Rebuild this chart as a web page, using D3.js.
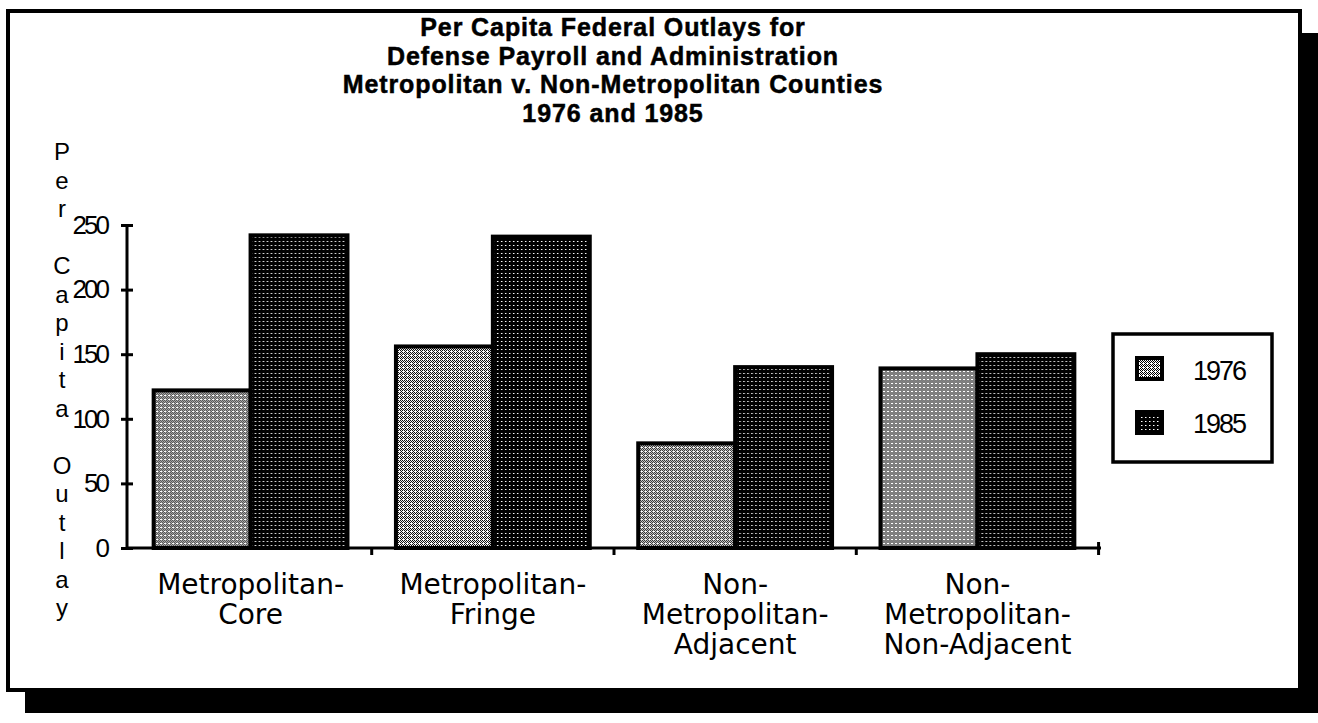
<!DOCTYPE html>
<html><head><meta charset="utf-8">
<script src="https://cdn.jsdelivr.net/npm/d3@7"></script>
<style>
html,body{margin:0;padding:0;background:#fff;}
svg{display:block;}
</style></head>
<body><svg id="c" width="1318" height="723" font-family="Liberation Sans, Arial, sans-serif"></svg>
<script>
const categories = ["Metropolitan-Core","Metropolitan-Fringe","Non-Metropolitan-Adjacent","Non-Metropolitan-Non-Adjacent"];
const categoryLines = [["Metropolitan-","Core"],["Metropolitan-","Fringe"],["Non-","Metropolitan-","Adjacent"],["Non-","Metropolitan-","Non-Adjacent"]];
const seriesNames = ["1976","1985"];
const values1976 = [122, 156, 81, 139];
const values1985 = [242, 241, 140, 150];
const yTicks = [0,50,100,150,200,250];
const titleLines = ["Per Capita Federal Outlays for","Defense Payroll and Administration","Metropolitan v. Non-Metropolitan Counties","1976 and 1985"];
const yTitle = "Per Capita Outlay";

const svg = d3.select("#c");
const defs = svg.append("defs");
// 1976: fine dotted mesh (medium-light gray)
const p1 = defs.append("pattern").attr("id","pat1976").attr("patternUnits","userSpaceOnUse").attr("width",4).attr("height",4);
p1.append("rect").attr("width",4).attr("height",4).attr("fill","#fff");
[[0,0],[2,0],[1,1],[3,1],[0,2],[2,2],[1,3]].forEach(([a,b])=>{
  p1.append("rect").attr("x",a).attr("y",b).attr("width",1).attr("height",1).attr("fill","#000");
});
// 1985: black with small white dots
const p2 = defs.append("pattern").attr("id","pat1985").attr("patternUnits","userSpaceOnUse").attr("width",4).attr("height",4);
p2.append("rect").attr("width",4).attr("height",4).attr("fill","#000");
p2.append("rect").attr("x",1).attr("y",1).attr("width",1.5).attr("height",1).attr("fill","#fff");
const fills = ["url(#pat1976)","url(#pat1985)"];

// page frame with shadow
svg.append("rect").attr("x",25).attr("y",690).attr("width",1293).attr("height",23).attr("fill","#000");
svg.append("rect").attr("x",1298).attr("y",33).attr("width",20).attr("height",680).attr("fill","#000");
svg.append("rect").attr("x",8).attr("y",11).attr("width",1292).attr("height",679)
  .attr("fill","#fff").attr("stroke","#000").attr("stroke-width",4);

// title
const tg = svg.append("g");
titleLines.forEach((t,i)=>{
  tg.append("text").attr("x",613).attr("y",36+i*28.5).attr("text-anchor","middle")
    .attr("font-size",25).attr("font-weight","bold").attr("letter-spacing",0.9)
    .attr("fill","#000").attr("stroke","#000").attr("stroke-width",0.5).text(t);
});

// y title stacked letters
const letters = yTitle.split("");
letters.forEach((ch,i)=>{
  if(ch===" ") return;
  svg.append("text").attr("x",62).attr("y",160+i*28.5).attr("text-anchor","middle")
    .attr("font-size",24).attr("fill","#000").text(ch);
});

// scales
const y = d3.scaleLinear().domain([0,250]).range([548,225]);
const x0 = d3.scaleBand().domain(categories).range([127,1101]).paddingInner(0.2).paddingOuter(0.11);
const x1 = d3.scaleBand().domain(seriesNames).range([0,x0.bandwidth()]).padding(0);

// bars
const data = categories.map((c,i)=>({cat:c, vals:[values1976[i],values1985[i]]}));
const gg = svg.append("g").selectAll("g").data(data).join("g")
  .attr("transform",d=>`translate(${x0(d.cat)},0)`);
gg.selectAll("rect").data(d=>d.vals.map((v,j)=>({v,s:seriesNames[j],j}))).join("rect")
  .attr("x",d=>x1(d.s)).attr("y",d=>y(d.v)).attr("width",x1.bandwidth()).attr("height",d=>y(0)-y(d.v))
  .attr("fill",d=>fills[d.j]).attr("stroke","#000").attr("stroke-width",4);

// y axis
const ya = svg.append("g").attr("transform","translate(127,0)")
  .call(d3.axisLeft(y).tickValues(yTicks).tickSize(6).tickPadding(14).tickFormat(d3.format("d")));
ya.attr("font-family",null).attr("font-size",null);
ya.select(".domain").attr("stroke","#000").attr("stroke-width",3).attr("d",`M0,${y(250)}V${y(0)}`);
ya.selectAll(".tick line").attr("x1",6).attr("x2",-6).attr("stroke","#000").attr("stroke-width",3);
ya.selectAll(".tick text").attr("font-size",26).attr("letter-spacing",-3)
  .style("font-family","'Liberation Sans',Arial,sans-serif").attr("fill","#000");

// x axis
const xa = svg.append("g").attr("transform",`translate(0,${y(0)})`)
  .call(d3.axisBottom(x0).tickSize(0).tickFormat(""));
xa.select(".domain").attr("stroke","#000").attr("stroke-width",3).attr("d","M127,0H1101");
const step = x0.step();
const bounds = categories.map(c=>x0(c)+x0.bandwidth()+(step-x0.bandwidth())/2);
xa.selectAll("line.b").data(bounds).join("line").attr("class","b")
  .attr("x1",d=>Math.min(d,1101)).attr("x2",d=>Math.min(d,1101))
  .attr("y1",(d,i)=>i===bounds.length-1?-6:0).attr("y2",7).attr("stroke","#000").attr("stroke-width",3);

// category labels
categories.forEach((c,i)=>{
  const cx = x0(c)+x0.bandwidth()/2;
  categoryLines[i].forEach((ln,k)=>{
    svg.append("text").attr("x",cx).attr("y",594+k*30).attr("text-anchor","middle")
      .style("font-family","'DejaVu Sans',sans-serif").attr("font-size",28).attr("fill","#000").text(ln);
  });
});

// legend
const lg = svg.append("g");
lg.append("rect").attr("x",1113).attr("y",334).attr("width",159).attr("height",128)
  .attr("fill","#fff").attr("stroke","#000").attr("stroke-width",3.5);
seriesNames.forEach((s,i)=>{
  lg.append("rect").attr("x",1137).attr("y",358+i*54).attr("width",25).attr("height",21)
    .attr("fill",fills[i]).attr("stroke","#000").attr("stroke-width",4);
  lg.append("text").attr("x",1193).attr("y",380+i*53).attr("font-size",27).attr("letter-spacing",-2).attr("fill","#000").text(s);
});
</script></body></html>
